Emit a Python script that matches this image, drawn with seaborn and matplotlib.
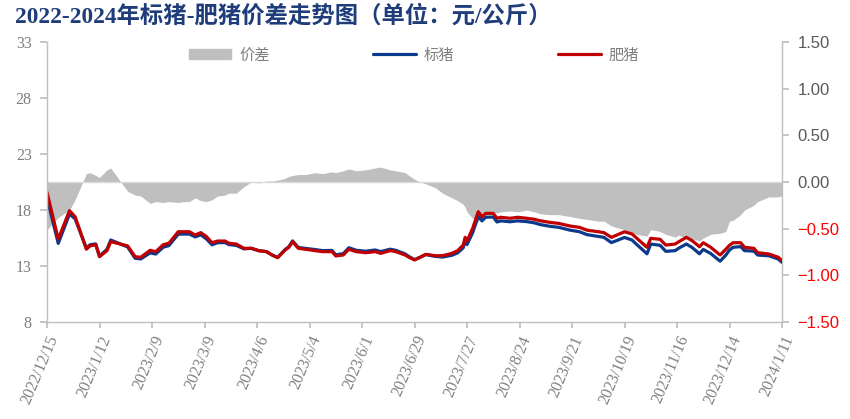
import pandas as pd
import matplotlib
matplotlib.use("Agg")
import matplotlib.pyplot as plt
import seaborn as sns
from matplotlib.patches import Patch
from matplotlib.lines import Line2D

dates = [
    '2022-12-15', '2022-12-21', '2022-12-27', '2022-12-30',
    '2023-01-05', '2023-01-07', '2023-01-10', '2023-01-12', '2023-01-16', '2023-01-18', '2023-01-27', '2023-01-31',
    '2023-02-03', '2023-02-08', '2023-02-11', '2023-02-15', '2023-02-18', '2023-02-23', '2023-02-26',
    '2023-03-01', '2023-03-04', '2023-03-07', '2023-03-10', '2023-03-13', '2023-03-16', '2023-03-20', '2023-03-22', '2023-03-26', '2023-03-30',
    '2023-04-03', '2023-04-07', '2023-04-11', '2023-04-14', '2023-04-17', '2023-04-21', '2023-04-23', '2023-04-25', '2023-04-28',
    '2023-05-02', '2023-05-07', '2023-05-11', '2023-05-16', '2023-05-18', '2023-05-22', '2023-05-25', '2023-05-29',
    '2023-06-03', '2023-06-08', '2023-06-11', '2023-06-16', '2023-06-19', '2023-06-24', '2023-06-26', '2023-06-29',
    '2023-07-02', '2023-07-05', '2023-07-10', '2023-07-14', '2023-07-19', '2023-07-22', '2023-07-25', '2023-07-26', '2023-07-27', '2023-07-30',
    '2023-08-02', '2023-08-04', '2023-08-06', '2023-08-10', '2023-08-12', '2023-08-14', '2023-08-19', '2023-08-23', '2023-08-28',
    '2023-09-01', '2023-09-04', '2023-09-09', '2023-09-14', '2023-09-20', '2023-09-25', '2023-09-29',
    '2023-10-05', '2023-10-08', '2023-10-12', '2023-10-15', '2023-10-19', '2023-10-23', '2023-10-25', '2023-10-31',
    '2023-11-02', '2023-11-07', '2023-11-10', '2023-11-15', '2023-11-17', '2023-11-21', '2023-11-24', '2023-11-28', '2023-11-30',
    '2023-12-04', '2023-12-09', '2023-12-12', '2023-12-14', '2023-12-16', '2023-12-20', '2023-12-22', '2023-12-27', '2023-12-29',
    '2024-01-04', '2024-01-09', '2024-01-11',
]

# 肥猪 (元/公斤)
fat_pig = [
    19.58, 15.4, 17.94, 17.4,
    14.5, 14.8, 14.9, 13.83, 14.37, 15.17, 14.8, 13.83,
    13.78, 14.4, 14.28, 14.9, 15.03, 16.06, 16.06,
    16.06, 15.77, 15.98, 15.63, 15.08, 15.23, 15.23, 15.03, 14.96, 14.58,
    14.58, 14.37, 14.28, 13.98, 13.74, 14.43, 14.67, 15.17, 14.58,
    14.49, 14.37, 14.28, 14.28, 13.9, 13.98, 14.49, 14.28,
    14.19, 14.28, 14.13, 14.37, 14.28, 13.98, 13.78, 13.54,
    13.78, 14.04, 13.92, 13.92, 14.13, 14.37, 14.87, 15.56, 15.23, 16.36,
    17.85, 17.4, 17.7, 17.7, 17.26, 17.35, 17.26, 17.35, 17.26,
    17.17, 17.04, 16.9, 16.8, 16.57, 16.45, 16.2,
    16.06, 15.98, 15.56, 15.77, 16.06, 15.86, 15.56, 14.67,
    15.47, 15.38, 14.87, 14.96, 15.17, 15.56, 15.27, 14.72, 15.08,
    14.67, 13.98, 14.49, 14.85, 15.08, 15.08, 14.67, 14.58, 14.19,
    14.07, 13.78, 13.48,
]

# 标猪 (元/公斤)
std_pig = [
    19.07, 15.02, 17.64, 17.21,
    14.59, 14.9, 14.97, 13.88, 14.5, 15.32, 14.7, 13.69,
    13.63, 14.17, 14.07, 14.68, 14.82, 15.84, 15.85,
    15.85, 15.6, 15.78, 15.42, 14.89, 15.08, 15.09, 14.91, 14.84, 14.53,
    14.58, 14.36, 14.29, 13.99, 13.76, 14.47, 14.73, 15.24, 14.66,
    14.57, 14.47, 14.37, 14.39, 14.0, 14.1, 14.63, 14.4,
    14.32, 14.43, 14.29, 14.5, 14.4, 14.08, 13.85, 13.57,
    13.78, 14.02, 13.86, 13.8, 13.96, 14.17, 14.63, 15.29, 14.91, 15.97,
    17.43, 17.03, 17.36, 17.37, 16.93, 17.03, 16.95, 17.03, 16.96,
    16.85, 16.7, 16.55, 16.45, 16.2, 16.06, 15.8,
    15.64, 15.56, 15.09, 15.28, 15.55, 15.32, 15.0, 14.09,
    14.96, 14.85, 14.31, 14.37, 14.6, 14.96, 14.66, 14.09, 14.48,
    14.11, 13.43, 13.96, 14.43, 14.67, 14.73, 14.37, 14.33, 13.98,
    13.91, 13.62, 13.33,
]

# 价差 (右轴)
spread = [
    -0.51, -0.38, -0.3, -0.19,
    0.09, 0.1, 0.07, 0.05, 0.13, 0.15, -0.1, -0.14,
    -0.15, -0.23, -0.21, -0.22, -0.21, -0.22, -0.21,
    -0.21, -0.17, -0.2, -0.21, -0.19, -0.15, -0.14, -0.12, -0.12, -0.05,
    0.0, -0.01, 0.01, 0.01, 0.02, 0.04, 0.06, 0.07, 0.08,
    0.08, 0.1, 0.09, 0.11, 0.1, 0.12, 0.14, 0.12,
    0.13, 0.15, 0.16, 0.13, 0.12, 0.1, 0.07, 0.03,
    0.0, -0.02, -0.06, -0.12, -0.17, -0.2, -0.24, -0.27, -0.32, -0.39,
    -0.42, -0.37, -0.34, -0.33, -0.33, -0.32, -0.31, -0.32, -0.3,
    -0.32, -0.34, -0.35, -0.35, -0.37, -0.39, -0.4,
    -0.42, -0.42, -0.47, -0.49, -0.51, -0.54, -0.56, -0.58,
    -0.51, -0.53, -0.56, -0.59, -0.57, -0.6, -0.61, -0.63, -0.6,
    -0.56, -0.55, -0.53, -0.42, -0.41, -0.35, -0.3, -0.25, -0.21,
    -0.16, -0.16, -0.15,
]

tick_labels = ['2022/12/15', '2023/1/12', '2023/2/9', '2023/3/9', '2023/4/6', '2023/5/4', '2023/6/1',
               '2023/6/29', '2023/7/27', '2023/8/24', '2023/9/21', '2023/10/19', '2023/11/16',
               '2023/12/14', '2024/1/11']
left_ticks = [8, 13, 18, 23, 28, 33]
right_ticks = [-1.5, -1.0, -0.5, 0.0, 0.5, 1.0, 1.5]

df = pd.DataFrame({'日期': pd.to_datetime(dates), '标猪': std_pig, '肥猪': fat_pig, '价差': spread})
tick_pos = pd.to_datetime(tick_labels, format='%Y/%m/%d')

sns.set_theme(style='white')
plt.rcParams['font.family'] = ['Liberation Serif', 'Noto Sans CJK SC', 'DejaVu Sans']
plt.rcParams['axes.unicode_minus'] = True

BLUE = '#0b3a8c'
RED = '#c00000'
GRAY = '#bfbfbf'
AXC = '#bfbfbf'

fig = plt.figure(figsize=(8.5, 4.19), dpi=100)
ax = fig.add_axes([47 / 850, 1 - 322 / 419, 735 / 850, 280 / 419])
ax2 = ax.twinx()

ax2.fill_between(df['日期'], df['价差'], 0, color=GRAY, lw=0)
ax2.axhline(0, color='#d9d9d9', lw=1)
sns.lineplot(data=df, x='日期', y='标猪', ax=ax, color=BLUE, lw=2.3)
sns.lineplot(data=df, x='日期', y='肥猪', ax=ax, color=RED, lw=2.3)

ax.set_zorder(ax2.get_zorder() + 1)
ax.patch.set_visible(False)

ax.set_xlim(tick_pos[0], tick_pos[-1])
ax.set_ylim(8, 33)
ax2.set_ylim(-1.5, 1.5)
ax.set_xlabel('')
ax.set_ylabel('')

ax.set_xticks(tick_pos)
ax.set_xticklabels(tick_labels, rotation=67, ha='right', va='top', rotation_mode='anchor',
                   fontsize=11.5, color='#7f7f7f', family=['Liberation Serif'])
ax.set_yticks(left_ticks)
ax.set_yticklabels([str(t) for t in left_ticks], fontsize=11.5, color='#7f7f7f', family=['Liberation Serif'])

ax2.set_yticks(right_ticks)
ax2.set_yticklabels([f'{t:.2f}'.replace('-', '\u2212') for t in right_ticks], fontsize=12,
                    family=['Liberation Sans'])
for lab, t in zip(ax2.get_yticklabels(), right_ticks):
    lab.set_color('#ff0000' if t < 0 else '#595959')

for a in (ax, ax2):
    for s in a.spines.values():
        s.set_visible(False)
ax.spines['left'].set_visible(True)
ax.spines['bottom'].set_visible(True)
ax2.spines['right'].set_visible(True)
for s in (ax.spines['left'], ax.spines['bottom'], ax2.spines['right']):
    s.set_color(AXC)
    s.set_linewidth(1)

ax.tick_params(axis='x', bottom=True, length=4, color=AXC, pad=4)
ax.tick_params(axis='y', left=True, length=5, color=AXC, pad=6)
ax2.tick_params(axis='y', right=True, length=5, color=AXC, pad=6)
ax.grid(False)
ax2.grid(False)

handles = [Patch(color=GRAY), Line2D([], [], color=BLUE, lw=2.3), Line2D([], [], color=RED, lw=2.3)]
fig.legend(handles, ['价差', '标猪', '肥猪'], loc='center', bbox_to_anchor=(0.487, 0.869), ncol=3,
           frameon=False, handlelength=2.8, columnspacing=6.8, handletextpad=0.5,
           prop={'family': ['Noto Sans CJK SC'], 'size': 11}, labelcolor='#808080')

fig.text(0.018, 0.962, '2022-2024年标猪-肥猪价差走势图（单位：元/公斤）', fontsize=16.8, fontweight='bold',
         color='#1f3d7a', va='center', ha='left', family=['Liberation Serif', 'Noto Sans CJK SC'])

fig.savefig('out.png', dpi=100)
